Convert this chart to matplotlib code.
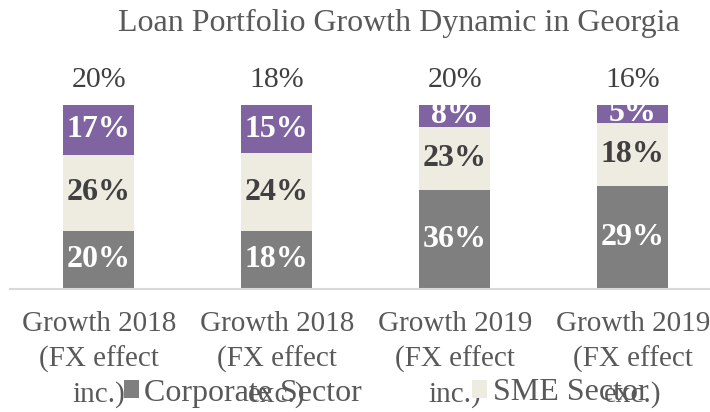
import numpy as np
import matplotlib
matplotlib.use("Agg")
import matplotlib.pyplot as plt

plt.rcParams['font.family'] = ['Liberation Serif', 'DejaVu Serif']

# data
categories = ["Growth 2018\n(FX effect\ninc.)", "Growth 2018\n(FX effect\nexc.)",
              "Growth 2019\n(FX effect\ninc.)", "Growth 2019\n(FX effect\nexc.)"]
corporate = [20, 18, 36, 29]
sme = [26, 24, 23, 18]
retail = [17, 15, 8, 5]
totals = [20, 18, 20, 16]

series = [corporate, sme, retail]
names = ["Corporate Sector", "SME Sector", None]
colors = ["#7F7F7F", "#EEECE1", "#8064A2"]
label_colors = ["white", "#404040", "white"]

vals = np.array(series, dtype=float)
shares = vals / vals.sum(axis=0)

fig = plt.figure(figsize=(7.1, 4.12), dpi=100)
ax = fig.add_axes([9.7 / 710, (412 - 289) / 412, 712 / 710, 184 / 412])

x = np.arange(len(categories))
bottom = np.zeros(len(categories))
handles = []
for i in range(len(series)):
    bars = ax.bar(x, shares[i], 0.4, bottom=bottom, color=colors[i], label=names[i])
    if names[i]:
        handles.append(bars)
    for j, b in enumerate(bars):
        t = ax.text(x[j], bottom[j] + shares[i][j] / 2, f"{series[i][j]}%",
                    ha="center", va="center", fontsize=23, fontweight="bold",
                    color=label_colors[i])
        t.set_clip_path(b)
    bottom += shares[i]

for j in range(len(x)):
    ax.text(x[j], 1.135, f"{totals[j]}%", ha="center", va="center",
            fontsize=21.5, color="#404040", clip_on=False)

ax.set_xlim(-0.5, 3.5)
ax.set_ylim(0, 1)
ax.set_yticks([])
ax.set_xticks(x)
ax.set_xticklabels(categories, fontsize=21, color="#595959", linespacing=1.4)
ax.tick_params(axis="x", length=0, pad=16)
for s in ["top", "left", "right"]:
    ax.spines[s].set_visible(False)
ax.spines["bottom"].set_color("#D9D9D9")
ax.spines["bottom"].set_linewidth(1.5)

fig.text(399 / 710, 1 - 23 / 412, "Loan Portfolio Growth Dynamic in Georgia",
         ha="center", va="center", fontsize=23, color="#595959")

fig.legend(handles=handles, loc="center left", bbox_to_anchor=(124 / 710, 19 / 412),
           ncol=2, frameon=False, fontsize=23, handlelength=0.46, handleheight=0.46,
           handletextpad=0.18, columnspacing=3.45, borderpad=0, borderaxespad=0,
           labelcolor="#595959")

fig.savefig("out.png", dpi=100)
